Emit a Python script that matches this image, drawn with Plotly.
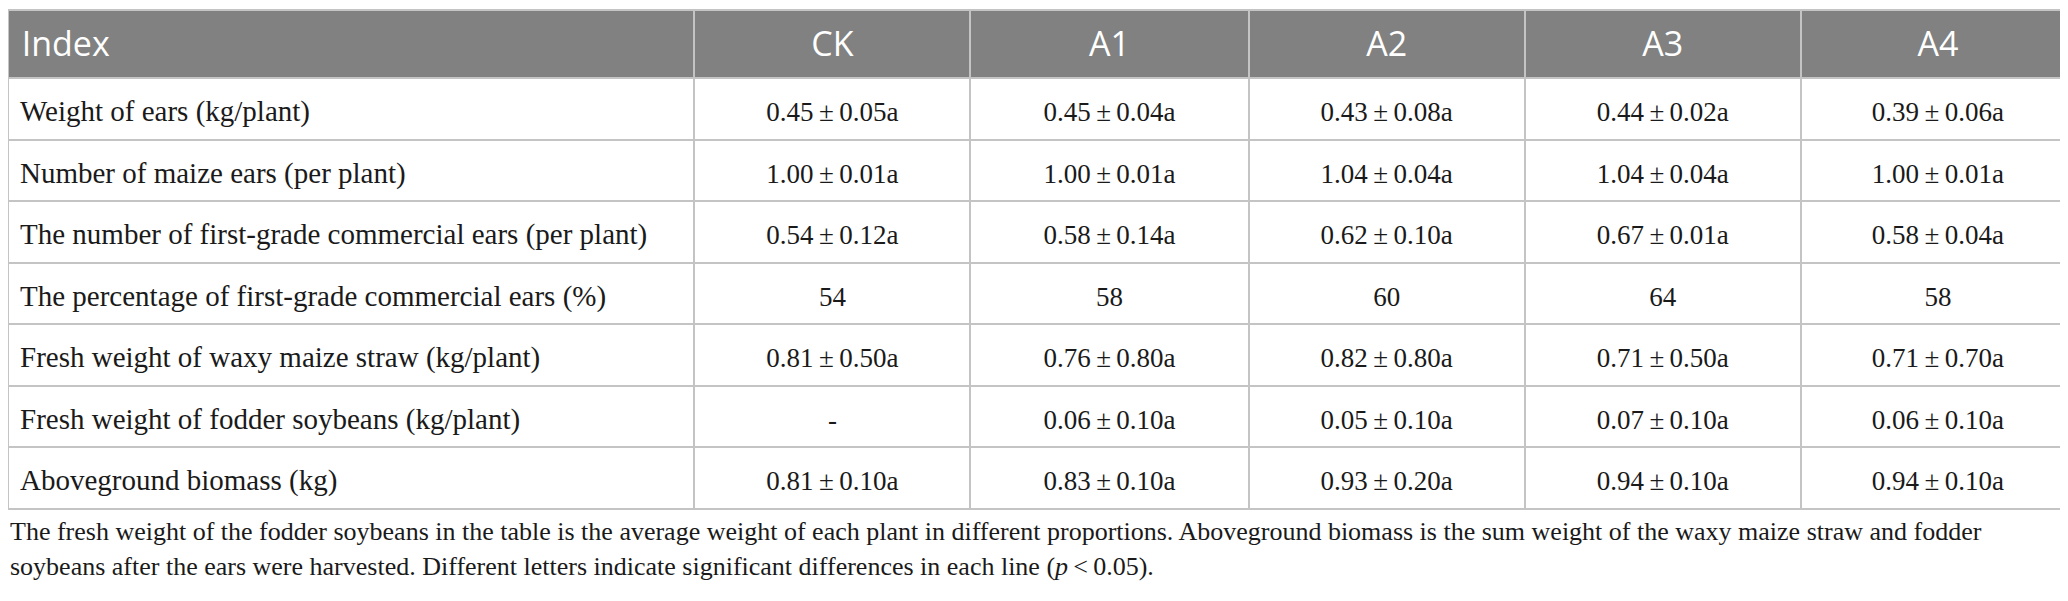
import plotly.graph_objects as go

# ---- data ----
columns = ["Index", "CK", "A1", "A2", "A3", "A4"]
index_labels = [
    "Weight of ears (kg/plant)",
    "Number of maize ears (per plant)",
    "The number of first-grade commercial ears (per plant)",
    "The percentage of first-grade commercial ears (%)",
    "Fresh weight of waxy maize straw (kg/plant)",
    "Fresh weight of fodder soybeans (kg/plant)",
    "Aboveground biomass (kg)",
]
# mean, sd per row (None sd -> plain value; None mean -> "-")
ck_mean = [0.45, 1.00, 0.54, 54, 0.81, None, 0.81]
ck_sd   = [0.05, 0.01, 0.12, None, 0.50, None, 0.10]
a1_mean = [0.45, 1.00, 0.58, 58, 0.76, 0.06, 0.83]
a1_sd   = [0.04, 0.01, 0.14, None, 0.80, 0.10, 0.10]
a2_mean = [0.43, 1.04, 0.62, 60, 0.82, 0.05, 0.93]
a2_sd   = [0.08, 0.04, 0.10, None, 0.80, 0.10, 0.20]
a3_mean = [0.44, 1.04, 0.67, 64, 0.71, 0.07, 0.94]
a3_sd   = [0.02, 0.04, 0.01, None, 0.50, 0.10, 0.10]
a4_mean = [0.39, 1.00, 0.58, 58, 0.71, 0.06, 0.94]
a4_sd   = [0.06, 0.01, 0.04, None, 0.70, 0.10, 0.10]
letters = ["a", "a", "a", "", "a", "a", "a"]

footnote_1 = ("The fresh weight of the fodder soybeans in the table is the average weight of each plant "
              "in different proportions. Aboveground biomass is the sum weight of the waxy maize straw and fodder")
footnote_2 = ("soybeans after the ears were harvested. Different letters indicate significant differences "
              "in each line (<i>p</i>\u2009<\u20090.05).")


def fmt(means, sds):
    out = []
    for m, s, l in zip(means, sds, letters):
        if m is None:
            out.append("-")
        elif s is None:
            out.append(f"{m:g}")
        else:
            out.append(f"{m:.2f}\u2009±\u2009{s:.2f}{l}")
    return out


def lower(texts, strut_px, centered, indent=""):
    # Tables pin the top of the text box to the top of the cell; an invisible,
    # taller blank raises that box so the visible text sits mid-cell.
    # The trailing <br> stops the table from re-wrapping the markup.
    strut = f'<span style="font-size:{strut_px}px">\u00a0</span>'
    out = []
    for t in texts:
        if centered:
            out.append(f"{strut}{t}{strut}<br>")
        else:
            out.append(f"{indent}{t}{strut}<br>")
    return out


body_strut = 39.5
head_strut = 35.3
body_indent = '<span style="font-size:16px">\u00a0</span>'

col_values = [lower(index_labels, body_strut, False, body_indent)] + [
    lower(fmt(m, s), body_strut, True)
    for m, s in [(ck_mean, ck_sd), (a1_mean, a1_sd), (a2_mean, a2_sd),
                 (a3_mean, a3_sd), (a4_mean, a4_sd)]
]
header_values = (lower([columns[0]], head_strut, False, "\u2009")
                 + lower(columns[1:], head_strut, True))

W, H = 2068, 601
top = 2.0
col_widths = [686, 276, 278, 276, 276, 274]
line_col = "#c4c4c4"
text_col = "#1a1a1a"
serif = "Liberation Serif"

fig = go.Figure(go.Table(
    columnwidth=col_widths,
    domain=dict(x=[0, 2067 / W], y=[0, 1 - top / H]),
    header=dict(
        values=header_values,
        fill_color="#808180",
        line=dict(color=line_col, width=2),
        font=dict(family="Open Sans", size=34, color="white"),
        align=["left"] + ["center"] * 5,
        height=68,
    ),
    cells=dict(
        values=col_values,
        fill_color="white",
        line=dict(color=line_col, width=2),
        font=dict(family=serif, size=[29, 27, 27, 27, 27, 27], color=text_col),
        align=["left"] + ["center"] * 5,
        height=61.5,
    ),
))

fig.add_annotation(x=0, y=523, xref="paper", yref="y", text=footnote_1, showarrow=False,
                   xanchor="left", yanchor="middle",
                   font=dict(family=serif, size=26, color=text_col))
fig.add_annotation(x=0, y=558, xref="paper", yref="y", text=footnote_2, showarrow=False,
                   xanchor="left", yanchor="middle",
                   font=dict(family=serif, size=26, color=text_col))

fig.update_layout(
    width=W, height=H,
    margin=dict(l=0, r=0, t=0, b=0),
    paper_bgcolor="white", plot_bgcolor="white",
    xaxis=dict(visible=False, range=[0, 1]),
    yaxis=dict(visible=False, range=[H, 0]),
    showlegend=False,
)

fig.write_html("out.html")
